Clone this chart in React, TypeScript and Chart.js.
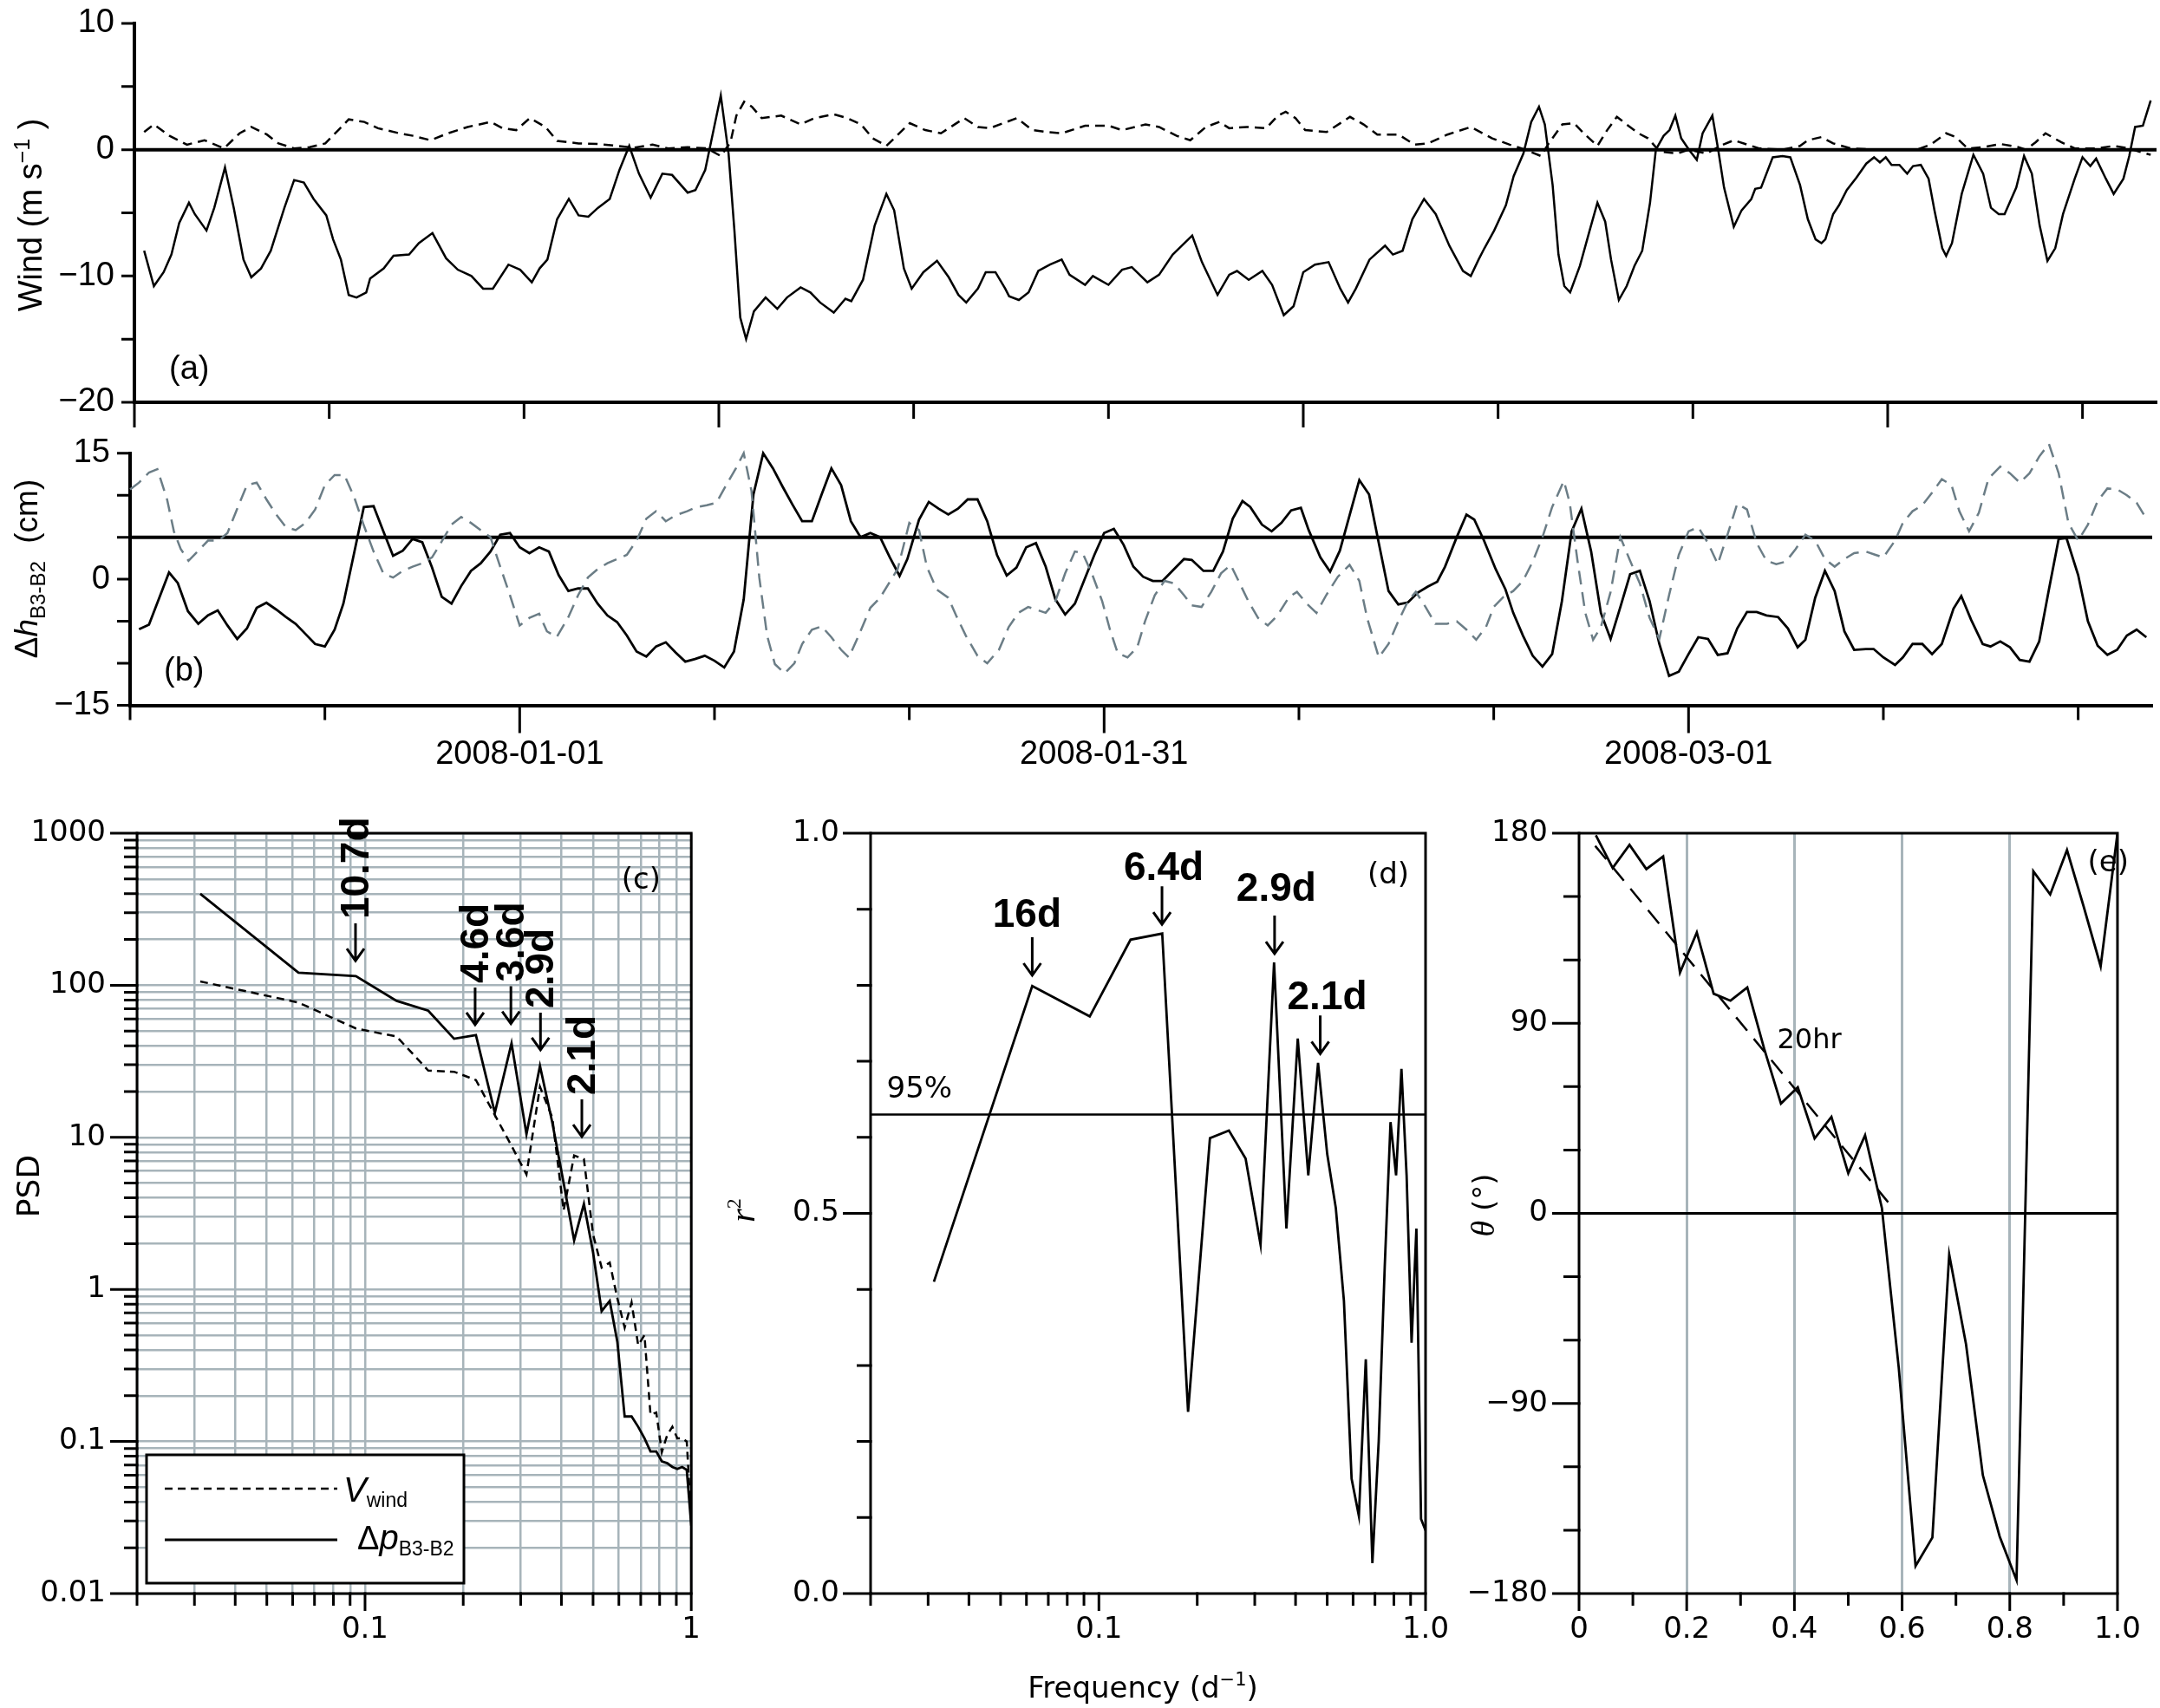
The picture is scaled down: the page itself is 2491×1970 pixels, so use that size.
import React, { useEffect, useRef } from 'react';
import { Chart, registerables } from 'chart.js';

Chart.register(...registerables);

const SANS = '"Liberation Sans", Arial, sans-serif';
const WIDE = '"DejaVu Sans", Verdana, sans-serif';
const SERIF = '"Liberation Serif", "Times New Roman", serif';
const GRID_GRAY = '#a7b4ba';
const SLATE = '#6b7d86';

// ---------------- (a)/(b) time axis: day 0 = 2007-12-12 ----------------
const TS_MAX_DAY = 103.8;
const TS_TICK_DAYS = [0, 10, 20, 30, 40, 50, 60, 70, 80, 90, 100];
const A_LONG_TICK_DAYS = [0, 30, 60, 90];
const B_DATE_DAYS = [20, 50, 80];
const B_DATE_LABELS = ['2008-01-01', '2008-01-31', '2008-03-01'];
const A_Y_TICKS = [-20, -15, -10, -5, 0, 5, 10];
const A_Y_LABELS = [-20, -10, 0, 10];
const B_Y_TICKS = [-15, -10, -5, 0, 5, 10, 15];
const B_Y_LABELS = [-15, 0, 15];
const B_REF_LEVEL = 5;

// (a) wind, solid component [day, m/s]
const WIND_SOLID = [
  [0.5,-8.0],[1.0,-10.8],[1.5,-9.7],[1.9,-8.3],[2.3,-5.8],[2.8,-4.2],[3.1,-5.1],[3.7,-6.4],[4.1,-4.6],[4.65,-1.4],
  [5.1,-4.6],[5.6,-8.7],[6.0,-10.1],[6.5,-9.4],[7.0,-8.0],[7.7,-4.6],[8.2,-2.4],[8.7,-2.6],[9.2,-3.9],[9.85,-5.2],
  [10.2,-7.1],[10.6,-8.7],[11.0,-11.5],[11.4,-11.7],[11.9,-11.3],[12.1,-10.2],[12.8,-9.4],[13.3,-8.4],[14.1,-8.3],[14.6,-7.4],
  [15.3,-6.6],[16.0,-8.6],[16.6,-9.5],[17.3,-10.0],[17.9,-11.0],[18.4,-11.0],[19.2,-9.1],[19.8,-9.5],[20.4,-10.5],[20.8,-9.4],
  [21.2,-8.7],[21.7,-5.5],[22.3,-3.9],[22.8,-5.2],[23.3,-5.3],[23.8,-4.6],[24.4,-3.9],[24.9,-1.6],[25.4,0.3],[25.9,-1.9],
  [26.5,-3.8],[27.1,-1.9],[27.6,-2.0],[28.4,-3.4],[28.8,-3.2],[29.3,-1.6],[30.1,4.3],[30.5,-0.3],[30.8,-6.4],[31.1,-13.3],
  [31.4,-15.0],[31.8,-12.8],[32.4,-11.7],[33.0,-12.6],[33.5,-11.7],[34.2,-10.9],[34.7,-11.3],[35.2,-12.1],[35.9,-12.9],[36.5,-11.8],
  [36.8,-12.0],[37.4,-10.3],[38.0,-6.0],[38.6,-3.5],[39.0,-4.8],[39.5,-9.4],[39.9,-11.0],[40.5,-9.7],[41.2,-8.8],[41.8,-10.1],
  [42.3,-11.5],[42.7,-12.1],[43.3,-11.0],[43.7,-9.7],[44.2,-9.7],[44.7,-11.0],[44.9,-11.6],[45.4,-11.9],[45.9,-11.3],[46.4,-9.6],
  [47.0,-9.1],[47.6,-8.7],[48.0,-9.9],[48.8,-10.7],[49.2,-10.0],[50.0,-10.7],[50.7,-9.5],[51.2,-9.3],[52.0,-10.5],[52.6,-9.9],
  [53.3,-8.3],[54.3,-6.8],[54.8,-8.9],[55.6,-11.5],[56.2,-9.9],[56.6,-9.6],[57.2,-10.3],[57.9,-9.6],[58.4,-10.7],[59.0,-13.1],
  [59.5,-12.4],[60.0,-9.7],[60.6,-9.1],[61.3,-8.9],[61.9,-11.0],[62.3,-12.1],[62.7,-11.0],[63.4,-8.7],[64.2,-7.6],[64.6,-8.3],
  [65.1,-8.0],[65.6,-5.5],[66.2,-3.9],[66.8,-5.1],[67.5,-7.6],[68.2,-9.6],[68.6,-10.0],[69.0,-8.7],[69.3,-7.8],[69.8,-6.4],
  [70.4,-4.4],[70.8,-2.1],[71.3,-0.3],[71.7,2.2],[72.1,3.4],[72.4,2.0],[72.8,-2.8],[73.1,-8.3],[73.4,-10.8],[73.7,-11.3],
  [74.2,-9.2],[74.7,-6.4],[75.1,-4.2],[75.5,-5.7],[75.8,-8.7],[76.2,-11.9],[76.6,-10.8],[77.0,-9.2],[77.4,-8.0],[77.8,-4.2],
  [78.1,0],[78.5,1.1],[78.8,1.55],[79.1,2.7],[79.4,0.9],[79.8,0],[80.2,-0.8],[80.5,1.3],[81.0,2.7],[81.3,0],
  [81.6,-3.0],[82.1,-6.1],[82.5,-4.8],[83.0,-3.9],[83.2,-3.1],[83.5,-3.0],[84.1,-0.6],[84.6,-0.5],[85.0,-0.6],[85.5,-2.8],
  [85.9,-5.5],[86.3,-7.1],[86.6,-7.4],[86.8,-7.1],[87.2,-5.1],[87.5,-4.4],[87.9,-3.2],[88.4,-2.2],[88.9,-1.1],[89.3,-0.6],
  [89.6,-1.0],[89.9,-0.6],[90.2,-1.2],[90.6,-1.2],[91.0,-1.9],[91.3,-1.3],[91.7,-1.2],[92.1,-2.3],[92.4,-4.8],[92.8,-7.8],
  [93.0,-8.4],[93.3,-7.4],[93.8,-3.5],[94.4,-0.4],[94.9,-1.9],[95.3,-4.6],[95.7,-5.1],[96.0,-5.1],[96.6,-3.0],[97.0,-0.5],
  [97.4,-1.9],[97.8,-6.0],[98.2,-8.8],[98.6,-7.8],[99.0,-5.1],[99.6,-2.3],[100.0,-0.6],[100.4,-1.3],[100.7,-0.7],[101.2,-2.3],
  [101.6,-3.5],[102.1,-2.3],[102.4,-0.5],[102.7,1.8],[103.1,1.9],[103.5,3.9],
];

// (a) wind, dashed component [day, m/s]
const WIND_DASHED = [
  [0.5,1.4],[1.0,2.0],[1.8,1.1],[2.7,0.4],[3.6,0.75],[4.6,0.1],[5.4,1.3],[6.0,1.8],[6.8,1.2],[7.4,0.5],
  [8.2,0.1],[9.0,0.2],[9.8,0.5],[10.5,1.6],[11.0,2.4],[11.8,2.2],[12.5,1.7],[13.6,1.3],[14.3,1.1],[15.2,0.75],
  [16.1,1.3],[17.1,1.8],[18.3,2.2],[18.9,1.7],[19.6,1.55],[20.3,2.5],[21.1,1.8],[21.7,0.7],[22.8,0.5],[23.8,0.45],
  [24.8,0.3],[25.6,0.15],[26.6,0.4],[27.4,0.1],[28.4,0.2],[29.4,0.1],[30.1,-0.5],[30.6,0.6],[30.9,2.7],[31.3,3.8],
  [31.7,3.4],[32.2,2.5],[33.2,2.7],[34.2,2.0],[34.9,2.5],[35.9,2.8],[36.6,2.5],[37.3,2.0],[37.9,0.9],[38.6,0.3],
  [39.2,1.2],[39.8,2.1],[40.6,1.55],[41.4,1.3],[42.6,2.5],[43.3,1.8],[43.9,1.7],[44.6,2.1],[45.3,2.5],[46.1,1.55],
  [46.9,1.4],[47.6,1.3],[48.8,1.9],[50.0,1.9],[50.7,1.55],[51.9,2.0],[52.6,1.8],[53.5,1.1],[54.2,0.75],[55.0,1.8],
  [55.7,2.2],[56.2,1.7],[57.1,1.8],[58.1,1.7],[58.7,2.7],[59.1,3.0],[59.6,2.5],[60.1,1.55],[61.2,1.4],[61.9,2.1],
  [62.4,2.6],[63.1,2.0],[63.8,1.2],[64.9,1.2],[65.7,0.4],[66.4,0.5],[67.4,1.2],[68.6,1.8],[69.7,0.9],[70.6,0.4],
  [71.4,0],[72.2,-0.5],[72.6,0.5],[73.3,2.0],[73.9,2.1],[74.4,1.3],[75.1,0.3],[75.6,1.55],[76.1,2.6],[76.6,2.0],
  [77.2,1.3],[77.7,0.9],[78.3,-0.15],[79.2,-0.3],[79.8,0],[80.7,-0.3],[81.4,0.3],[82.1,0.75],[82.8,0.4],[83.4,0.1],
  [84.6,0],[85.5,0.3],[85.9,0.75],[86.6,1.0],[87.2,0.5],[88.1,0.1],[89.5,0],[91.5,0],[92.2,0.4],[93.0,1.3],
  [93.5,1.0],[94.1,0.1],[94.9,0.2],[95.8,0.45],[96.7,0.2],[97.1,0],[97.6,0.6],[98.1,1.3],[98.9,0.6],[99.6,0.1],
  [100.7,0.1],[101.6,0.3],[102.4,0.1],[102.9,-0.15],[103.5,-0.4],
];

// (b) Δh B3-B2, solid black [day, cm]
const DH_SOLID = [
  [0.46,-5.95],[0.97,-5.4],[1.5,-2.2],[2.0,0.8],[2.45,-0.45],[2.97,-3.8],[3.5,-5.3],[4.0,-4.3],[4.5,-3.7],[5.0,-5.5],
  [5.5,-7.1],[6.0,-5.85],[6.5,-3.4],[7.0,-2.8],[7.5,-3.6],[8.0,-4.5],[8.5,-5.3],[9.0,-6.5],[9.5,-7.7],[10.0,-8.0],
  [10.5,-6.0],[10.95,-2.9],[11.5,3.1],[12.0,8.6],[12.5,8.7],[13.0,5.7],[13.5,2.8],[14.0,3.4],[14.5,4.8],[15.0,4.4],
  [15.5,1.4],[16.0,-2.1],[16.5,-2.9],[17.0,-0.8],[17.5,1.0],[18.0,1.9],[18.5,3.3],[19.0,5.3],[19.5,5.5],[20.0,3.8],
  [20.5,3.1],[21.0,3.8],[21.5,3.3],[22.0,0.5],[22.5,-1.4],[23.0,-1.1],[23.5,-1.1],[24.0,-2.9],[24.5,-4.3],[25.0,-5.1],
  [25.5,-6.7],[26.0,-8.6],[26.5,-9.2],[27.0,-8.0],[27.5,-7.5],[28.0,-8.7],[28.5,-9.8],[29.0,-9.5],[29.5,-9.1],[30.0,-9.7],
  [30.5,-10.5],[31.0,-8.6],[31.5,-2.4],[32.0,10.1],[32.5,15.0],[33.0,13.2],[33.5,11.0],[34.0,8.9],[34.5,6.9],[35.0,6.9],
  [35.5,10.1],[36.0,13.2],[36.5,11.2],[37.0,6.9],[37.5,5.0],[38.0,5.5],[38.5,5.0],[39.0,2.6],[39.5,0.4],[39.9,2.4],
  [40.5,7.1],[41.0,9.2],[41.5,8.4],[42.0,7.7],[42.5,8.4],[43.0,9.5],[43.5,9.5],[44.0,6.9],[44.5,2.9],[45.0,0.45],
  [45.5,1.4],[46.0,3.8],[46.5,4.3],[47.0,1.5],[47.5,-2.4],[48.0,-4.2],[48.5,-2.9],[49.0,0],[49.5,2.9],[50.0,5.5],
  [50.5,6.0],[51.0,4.1],[51.5,1.5],[52.0,0.3],[52.5,-0.2],[53.0,-0.2],[53.5,1.0],[54.1,2.4],[54.5,2.3],[55.1,1.0],
  [55.6,1.0],[56.1,3.3],[56.6,7.2],[57.1,9.3],[57.5,8.6],[58.1,6.5],[58.6,5.7],[59.1,6.7],[59.6,8.2],[60.1,8.5],
  [60.5,5.85],[61.1,2.6],[61.6,0.9],[62.1,3.4],[62.6,7.6],[63.1,11.8],[63.6,10.1],[64.1,4.3],[64.6,-1.4],[65.1,-3.0],
  [65.6,-2.75],[66.1,-1.6],[66.6,-0.9],[67.1,-0.3],[67.5,1.5],[68.1,5.0],[68.6,7.7],[69.0,7.1],[69.5,4.6],[70.1,1.2],
  [70.6,-1.2],[71.0,-4.0],[71.5,-6.7],[72.0,-9.1],[72.5,-10.4],[73.0,-8.9],[73.5,-2.6],[74.0,5.7],[74.5,8.4],[75.0,3.3],
  [75.5,-4.0],[76.0,-7.1],[76.5,-3.3],[77.0,0.6],[77.5,1.0],[78.0,-2.6],[78.5,-7.7],[79.0,-11.5],[79.5,-11.0],[80.0,-8.9],
  [80.5,-6.9],[81.0,-7.1],[81.5,-9.0],[82.0,-8.8],[82.5,-5.85],[83.0,-3.9],[83.5,-3.9],[84.0,-4.3],[84.6,-4.5],[85.1,-5.85],
  [85.6,-8.1],[86.0,-7.2],[86.5,-2.2],[87.0,1.0],[87.5,-1.4],[88.0,-6.2],[88.5,-8.4],[89.1,-8.3],[89.5,-8.3],[90.0,-9.3],
  [90.6,-10.2],[91.0,-9.3],[91.5,-7.7],[92.0,-7.7],[92.5,-8.9],[93.0,-7.7],[93.6,-3.5],[94.0,-2.0],[94.5,-4.8],[95.1,-7.7],
  [95.5,-8.0],[96.0,-7.4],[96.5,-8.1],[97.0,-9.6],[97.5,-9.8],[98.0,-7.4],[98.5,-1.2],[99.0,4.8],[99.4,4.9],[100.0,0.5],
  [100.5,-5.0],[101.0,-7.9],[101.5,-9.0],[102.0,-8.4],[102.5,-6.7],[103.0,-6.0],[103.5,-6.9],
];

// (b) dashed grey series [day, cm]
const DH_DASHED = [
  [0,10.7],[0.46,11.5],[0.97,12.7],[1.4,13.1],[1.9,9.5],[2.25,5.7],[2.6,3.6],[3.0,2.2],[3.5,3.4],[4.0,4.6],
  [4.55,4.6],[5.0,5.5],[5.5,8.4],[6.0,11.2],[6.5,11.5],[7.0,9.5],[7.5,7.7],[8.0,6.2],[8.5,5.85],[9.0,6.7],
  [9.5,8.3],[10.0,11.2],[10.5,12.4],[11.0,12.4],[11.5,9.8],[12.0,6.4],[12.5,3.3],[13.0,0.7],[13.5,0.2],[14.0,1.0],
  [14.5,1.5],[15.0,1.9],[15.5,2.6],[16.0,4.5],[16.5,6.5],[17.0,7.4],[17.5,6.7],[18.0,5.85],[18.5,5.0],[19.0,1.5],
  [19.5,-1.9],[20.0,-5.5],[20.5,-4.6],[21.0,-4.1],[21.4,-6.2],[21.9,-6.9],[22.5,-4.5],[23.0,-1.9],[23.5,0.2],[24.0,1.2],
  [24.5,1.9],[25.0,2.4],[25.5,2.9],[26.0,4.6],[26.5,7.2],[27.0,8.1],[27.5,6.9],[28.0,7.6],[28.6,8.1],[29.1,8.6],
  [29.6,8.8],[30.1,9.1],[30.6,11.2],[31.1,13.2],[31.5,15.0],[31.9,10.5],[32.3,0.2],[32.7,-6.7],[33.1,-10.1],[33.6,-11.2],
  [34.1,-10.0],[34.5,-7.7],[35.0,-6.0],[35.5,-5.6],[36.0,-6.9],[36.5,-8.4],[36.9,-9.3],[37.4,-6.7],[38.0,-3.4],[38.5,-2.2],
  [39.0,-0.3],[39.4,1.2],[40.0,6.7],[40.5,5.85],[40.9,1.5],[41.4,-1.2],[42.0,-2.2],[42.4,-4.3],[42.9,-6.7],[43.5,-9.1],
  [44.0,-10.0],[44.6,-8.4],[45.1,-5.7],[45.6,-4.0],[46.1,-3.3],[46.5,-3.6],[47.0,-4.0],[47.5,-2.6],[48.0,0.7],[48.5,3.3],
  [48.9,3.1],[49.4,0.5],[49.9,-2.6],[50.3,-6.0],[50.7,-8.8],[51.2,-9.3],[51.7,-8.1],[52.1,-5.0],[52.6,-1.9],[53.1,-0.2],
  [53.6,-0.5],[54.1,-1.9],[54.5,-3.1],[55.0,-3.3],[55.5,-1.5],[56.0,0.7],[56.5,1.7],[56.9,-0.2],[57.4,-2.6],[57.9,-4.6],
  [58.4,-5.5],[58.9,-4.3],[59.5,-2.1],[59.9,-1.5],[60.4,-2.9],[60.9,-4.0],[61.4,-1.9],[62.0,0.3],[62.6,1.7],[63.1,-0.2],
  [63.5,-4.6],[64.1,-9.3],[64.6,-7.7],[65.1,-5.0],[65.6,-2.6],[66.0,-1.5],[66.5,-3.3],[67.0,-5.3],[67.6,-5.3],[68.1,-5.0],
  [68.6,-6.0],[69.1,-7.2],[69.6,-5.7],[70.0,-3.3],[70.5,-2.1],[71.0,-1.4],[71.5,-0.2],[72.0,2.1],[72.5,5.0],[73.0,8.6],
  [73.6,11.7],[73.9,9.1],[74.3,2.2],[74.7,-4.0],[75.1,-7.2],[75.5,-5.7],[76.0,-1.5],[76.5,5.0],[77.0,2.2],[77.5,-0.5],
  [78.0,-4.6],[78.5,-7.1],[79.0,-1.9],[79.5,2.9],[80.0,5.7],[80.5,6.2],[81.0,4.3],[81.5,1.8],[82.0,5.3],[82.5,9.0],
  [83.0,8.3],[83.5,4.3],[84.0,2.2],[84.5,1.8],[85.0,2.1],[85.5,3.6],[86.0,5.3],[86.5,4.6],[87.0,2.4],[87.5,1.5],
  [88.0,2.4],[88.5,3.1],[89.1,3.3],[89.6,2.9],[90.0,2.6],[90.6,4.6],[91.0,6.7],[91.5,8.1],[92.0,8.8],[92.5,10.3],
  [93.0,11.9],[93.5,11.2],[93.9,8.1],[94.4,5.7],[94.9,7.9],[95.4,12.0],[96.0,13.4],[96.5,12.6],[97.0,11.5],[97.5,12.6],
  [98.0,14.6],[98.5,16.1],[99.0,12.6],[99.5,6.7],[100.0,4.6],[100.5,6.5],[101.0,9.3],[101.5,10.8],[102.0,10.7],[102.5,10.0],
  [103.0,9.1],[103.5,7.2],
];

// ---------------- spectra (c), (d), (e) ----------------
const FREQ = [0.03125,0.0625,0.09375,0.125,0.15625,0.1875,0.21875,0.25,0.28125,0.3125,0.34375,0.375,0.40625,0.4375,0.46875,0.5,
  0.53125,0.5625,0.59375,0.625,0.65625,0.6875,0.71875,0.75,0.78125,0.8125,0.84375,0.875,0.90625,0.9375,0.96875,1.0];
const PSD_WIND = [106,77,52,46,27.5,27,23.8,14,8.8,5.7,21.5,13.5,3.3,7.6,7.2,2.3,
  1.39,1.5,0.87,0.56,0.82,0.43,0.5,0.15,0.155,0.085,0.11,0.125,0.105,0.105,0.1,0.03];
const PSD_DP = [400,121,115,79,68,44.5,47,14.5,41.5,10.5,29.5,12.5,5.0,2.1,3.65,1.75,
  0.72,0.84,0.45,0.146,0.146,0.125,0.105,0.086,0.086,0.074,0.072,0.068,0.066,0.068,0.065,0.028];
const R2 = [0.41,0.799,0.759,0.86,0.868,0.239,0.599,0.609,0.572,0.459,0.83,0.48,0.73,0.55,0.698,0.578,
  0.507,0.385,0.151,0.102,0.308,0.04,0.2,0.43,0.62,0.55,0.69,0.55,0.33,0.48,0.098,0.083];
const R2_95 = 0.63;
const THETA = [179,163.5,174.5,163,169,114,133,104,100.7,107,78,52,59.7,35.5,45.7,19,
  37,2.5,-73,-167,-153.5,-19.5,-62,-124,-153,-173.6,162,151,172,145,117,180];
const FIT_FREQ = [0.03, 0.575];
const FIT_THETA = [174, 5];

const C_X_LABEL_VALS = [0.1, 1];
const C_X_LABELS = ['0.1', '1'];
const C_Y_LABEL_VALS = [0.01, 0.1, 1, 10, 100, 1000];
const C_Y_LABELS = ['0.01', '0.1', '1', '10', '100', '1000'];
const D_X_LABEL_VALS = [0.1, 1];
const D_X_LABELS = ['0.1', '1.0'];
const D_Y_TICKS = [0, 0.1, 0.2, 0.3, 0.4, 0.5, 0.6, 0.7, 0.8, 0.9, 1.0];
const D_Y_LABEL_VALS = [0, 0.5, 1];
const D_Y_LABELS = ['0.0', '0.5', '1.0'];
const E_X_TICKS = [0, 0.1, 0.2, 0.3, 0.4, 0.5, 0.6, 0.7, 0.8, 0.9, 1.0];
const E_X_LABEL_VALS = [0, 0.2, 0.4, 0.6, 0.8, 1.0];
const E_X_LABELS = ['0', '0.2', '0.4', '0.6', '0.8', '1.0'];
const E_GRID_X = [0.2, 0.4, 0.6, 0.8];
const E_Y_TICKS = [-180, -150, -120, -90, -60, -30, 0, 30, 60, 90, 120, 150, 180];
const E_Y_LABEL_VALS = [-180, -90, 0, 90, 180];

const C_ANN = [
  { f: 0.0935, tip: 145, text: '10.7d' },
  { f: 0.2175, tip: 55, text: '4.6d' },
  { f: 0.28, tip: 56, text: '3.6d' },
  { f: 0.345, tip: 37.6, text: '2.9d' },
  { f: 0.462, tip: 10.1, text: '2.1d' },
];
const D_ANN = [
  { f: 0.0625, tip: 0.813, text: '16d', gap: 12, dx: -6 },
  { f: 0.156, tip: 0.88, text: '6.4d', gap: 7, dx: 2 },
  { f: 0.345, tip: 0.8415, text: '2.9d', gap: 17, dx: 2 },
  { f: 0.476, tip: 0.71, text: '2.1d', gap: 7, dx: 8 },
];

// ---------------- layout boxes (page px) ----------------
const BOX_A = { left: 0, top: -30, w: 2491, h: 544 };
const BOX_B = { left: 0, top: 460, w: 2491, h: 450 };
const BOX_C = { left: 0, top: 900, w: 830, h: 1070 };
const BOX_D = { left: 830, top: 900, w: 870, h: 1070 };
const BOX_E = { left: 1680, top: 900, w: 811, h: 1070 };

// ---------------- helpers ----------------
const pts = (arr: number[][]) => arr.map(([x, y]) => ({ x, y }));
const zip = (xs: number[], ys: number[]) => xs.map((x, i) => ({ x, y: ys[i] }));
const near = (a: number, b: number) => Math.abs(a - b) < 1e-9 * Math.max(1, Math.abs(b));
const inList = (list: number[], v: number) => list.some((u) => near(u, v));
const labelFor = (vals: number[], labels: string[]) => (v: number) => {
  const i = vals.findIndex((u) => near(u, v));
  return i >= 0 ? labels[i] : '';
};
const minus = (v: number) => (v < 0 ? '\u2212' + Math.abs(v) : String(v));
const isDecade = (v: number) => Math.abs(Math.log10(v) - Math.round(Math.log10(v))) < 1e-9;

function logTicks(lo: number, hi: number) {
  const out: number[] = [];
  for (let e = Math.floor(Math.log10(lo) + 1e-9); e <= Math.ceil(Math.log10(hi) - 1e-9); e++) {
    for (let m = 1; m <= 9; m++) {
      const v = Number((m * Math.pow(10, e)).toPrecision(6));
      if (v >= lo * (1 - 1e-9) && v <= hi * (1 + 1e-9)) out.push(v);
    }
  }
  return out;
}
const C_X_TICKS = logTicks(0.02, 1);
const C_Y_TICKS = logTicks(0.01, 1000);
const D_X_TICKS = logTicks(0.02, 1);

type Seg = { t: string; font: string; dy?: number };
function drawRich(ctx: any, segs: Seg[], x: number, y: number, align = 'left', rot = 0) {
  ctx.save();
  ctx.translate(x, y);
  if (rot) ctx.rotate(rot);
  let w = 0;
  for (const s of segs) { ctx.font = s.font; w += ctx.measureText(s.t).width; }
  let cx = align === 'center' ? -w / 2 : align === 'right' ? -w : 0;
  ctx.fillStyle = '#000';
  ctx.textAlign = 'left';
  ctx.textBaseline = 'alphabetic';
  for (const s of segs) {
    ctx.font = s.font;
    ctx.fillText(s.t, cx, s.dy || 0);
    cx += ctx.measureText(s.t).width;
  }
  ctx.restore();
}
function vTitle(ctx: any, segs: Seg[], cx: number, cy: number, capH: number) {
  drawRich(ctx, segs, cx + capH / 2, cy, 'center', -Math.PI / 2);
}
function yTickMarks(chart: any, lenFn: (v: number) => number, lw = 3) {
  const { ctx, chartArea } = chart;
  const s = chart.scales.y;
  ctx.save();
  ctx.strokeStyle = '#000';
  ctx.lineWidth = lw;
  ctx.beginPath();
  for (const t of s.ticks) {
    const p = s.getPixelForValue(t.value);
    ctx.moveTo(chartArea.left - lenFn(t.value), p);
    ctx.lineTo(chartArea.left + lw / 2, p);
  }
  ctx.stroke();
  ctx.restore();
}
function xTickMarks(chart: any, lenFn: (v: number) => number, lw = 3) {
  const { ctx, chartArea } = chart;
  const s = chart.scales.x;
  ctx.save();
  ctx.strokeStyle = '#000';
  ctx.lineWidth = lw;
  ctx.beginPath();
  for (const t of s.ticks) {
    const p = s.getPixelForValue(t.value);
    ctx.moveTo(p, chartArea.bottom - lw / 2);
    ctx.lineTo(p, chartArea.bottom + lenFn(t.value));
  }
  ctx.stroke();
  ctx.restore();
}
function hLine(chart: any, v: number, lw: number, color = '#000') {
  const { ctx, chartArea } = chart;
  const p = chart.scales.y.getPixelForValue(v);
  ctx.save();
  ctx.strokeStyle = color;
  ctx.lineWidth = lw;
  ctx.beginPath();
  ctx.moveTo(chartArea.left, p);
  ctx.lineTo(chartArea.right, p);
  ctx.stroke();
  ctx.restore();
}
function frame(chart: any, lw = 3) {
  const { ctx, chartArea: a } = chart;
  ctx.save();
  ctx.strokeStyle = '#000';
  ctx.lineWidth = lw;
  ctx.strokeRect(a.left, a.top, a.right - a.left, a.bottom - a.top);
  ctx.restore();
}
function arrowDown(ctx: any, x: number, yTop: number, yTip: number, lw = 3) {
  ctx.save();
  ctx.strokeStyle = '#000';
  ctx.lineWidth = lw;
  ctx.beginPath();
  ctx.moveTo(x, yTop);
  ctx.lineTo(x, yTip);
  ctx.moveTo(x - 10, yTip - 14);
  ctx.lineTo(x, yTip);
  ctx.lineTo(x + 10, yTip - 14);
  ctx.stroke();
  ctx.restore();
}

const common = (pad: any) => ({
  animation: false,
  responsive: false,
  maintainAspectRatio: false,
  devicePixelRatio: 1,
  events: [],
  layout: { padding: pad },
  plugins: { legend: { display: false }, tooltip: { enabled: false }, title: { display: false } },
  elements: { point: { radius: 0 }, line: { tension: 0 } },
});

function axis(o: any) {
  return {
    type: o.type || 'linear',
    min: o.min,
    max: o.max,
    bounds: 'data',
    afterBuildTicks: (s: any) => { s.ticks = o.ticks.map((v: number) => ({ value: v })); },
    afterFit: (s: any) => { if (s.isHorizontal()) s.height = o.size; else s.width = o.size; },
    ticks: {
      display: o.showLabels !== false,
      autoSkip: false,
      maxRotation: 0,
      minRotation: 0,
      padding: o.pad || 0,
      color: '#000',
      font: o.font,
      callback: o.labels || (() => ''),
    },
    grid: o.grid || { display: false, drawTicks: false },
    border: { display: !!o.border, color: '#000', width: o.border || 0 },
  };
}

// ---------------- panel (a) ----------------
function makeA(canvas: HTMLCanvasElement) {
  const oy = BOX_A.top;
  return new Chart(canvas, {
    type: 'line',
    data: {
      datasets: [
        { data: pts(WIND_DASHED), borderColor: '#000', borderWidth: 2.5, borderDash: [11, 7], pointRadius: 0 },
        { data: pts(WIND_SOLID), borderColor: '#000', borderWidth: 2.5, pointRadius: 0 },
      ],
    },
    options: {
      ...common({ left: 0, top: 27 - oy, right: 4, bottom: 0 }),
      scales: {
        x: axis({ min: 0, max: TS_MAX_DAY, ticks: TS_TICK_DAYS, size: BOX_A.h - (464 - oy), showLabels: false, border: 4, font: { family: SANS, size: 38 } }),
        y: axis({ min: -20, max: 10, ticks: A_Y_TICKS, size: 155, border: 4, pad: 23,
          labels: (v: number) => (A_Y_LABELS.includes(v) ? minus(v) : ''), font: { family: SANS, size: 38 } }),
      },
    } as any,
    plugins: [{
      id: 'decorA',
      beforeDatasetsDraw: (c: any) => hLine(c, 0, 4),
      afterDraw: (c: any) => {
        const ctx = c.ctx;
        yTickMarks(c, () => 15);
        xTickMarks(c, (v) => (A_LONG_TICK_DAYS.includes(v) ? 29 : 19));
        drawRich(ctx, [{ t: '(a)', font: `38px ${SANS}` }], 195, 437 - oy);
        vTitle(ctx, [
          { t: 'Wind (m s', font: `38px ${SANS}` },
          { t: '\u22121', font: `25px ${SANS}`, dy: -14 },
          { t: ' )', font: `38px ${SANS}` },
        ], 34, 248 - oy, 27);
      },
    }],
  } as any);
}

// ---------------- panel (b) ----------------
function makeB(canvas: HTMLCanvasElement) {
  const oy = BOX_B.top;
  return new Chart(canvas, {
    type: 'line',
    data: {
      datasets: [
        { data: pts(DH_DASHED), borderColor: SLATE, borderWidth: 2.5, borderDash: [16, 9], pointRadius: 0, clip: false },
        { data: pts(DH_SOLID), borderColor: '#000', borderWidth: 2.8, pointRadius: 0, clip: false },
      ],
    },
    options: {
      ...common({ left: 0, top: 522.7 - oy, right: 9, bottom: 0 }),
      scales: {
        x: axis({ min: 0, max: TS_MAX_DAY, ticks: TS_TICK_DAYS, size: BOX_B.h - (813.5 - oy), border: 4, pad: 34,
          labels: labelFor(B_DATE_DAYS, B_DATE_LABELS), font: { family: SANS, size: 38 } }),
        y: axis({ min: -15, max: 15, ticks: B_Y_TICKS, size: 150, border: 4, pad: 23,
          labels: (v: number) => (B_Y_LABELS.includes(v) ? minus(v) : ''), font: { family: SANS, size: 38 } }),
      },
    } as any,
    plugins: [{
      id: 'decorB',
      beforeDatasetsDraw: (c: any) => hLine(c, B_REF_LEVEL, 4),
      afterDraw: (c: any) => {
        const ctx = c.ctx;
        yTickMarks(c, () => 15);
        xTickMarks(c, (v) => (B_DATE_DAYS.includes(v) ? 32 : 17));
        drawRich(ctx, [{ t: '(b)', font: `38px ${SANS}` }], 189, 785 - oy);
        vTitle(ctx, [
          { t: '\u0394', font: `37px ${SANS}` },
          { t: 'h', font: `italic 37px ${SANS}` },
          { t: 'B3-B2', font: `24px ${SANS}`, dy: 9 },
          { t: '  (cm)', font: `37px ${SANS}` },
        ], 29, 656 - oy, 27);
      },
    }],
  } as any);
}

// ---------------- panel (c) ----------------
function makeC(canvas: HTMLCanvasElement) {
  const oy = BOX_C.top;
  const ox = BOX_C.left;
  const grid = { display: true, drawOnChartArea: true, drawTicks: false, color: GRID_GRAY, lineWidth: 2.5 };
  return new Chart(canvas, {
    type: 'line',
    data: {
      datasets: [
        { data: zip(FREQ, PSD_WIND), borderColor: '#000', borderWidth: 2.5, borderDash: [9, 6], pointRadius: 0 },
        { data: zip(FREQ, PSD_DP), borderColor: '#000', borderWidth: 2.8, pointRadius: 0 },
      ],
    },
    options: {
      ...common({ left: 0, top: 961 - oy, right: BOX_C.w - (799 - ox), bottom: 0 }),
      scales: {
        x: axis({ type: 'logarithmic', min: 0.02, max: 1, ticks: C_X_TICKS, size: BOX_C.h - (1838 - oy), pad: 22,
          labels: labelFor(C_X_LABEL_VALS, C_X_LABELS), font: { family: WIDE, size: 34 }, grid }),
        y: axis({ type: 'logarithmic', min: 0.01, max: 1000, ticks: C_Y_TICKS, size: 158 - ox, pad: 36,
          labels: labelFor(C_Y_LABEL_VALS, C_Y_LABELS), font: { family: WIDE, size: 34 }, grid }),
      },
    } as any,
    plugins: [{
      id: 'decorC',
      afterDraw: (c: any) => {
        const ctx = c.ctx;
        frame(c, 3);
        yTickMarks(c, (v) => (isDecade(v) ? 31 : 15));
        xTickMarks(c, (v) => (inList(C_X_LABEL_VALS, v) ? 20 : 14));
        // legend
        ctx.save();
        ctx.fillStyle = '#fff';
        ctx.fillRect(169 - ox, 1678 - oy, 366, 148);
        ctx.strokeStyle = '#000';
        ctx.lineWidth = 3;
        ctx.strokeRect(169 - ox, 1678 - oy, 366, 148);
        ctx.lineWidth = 2.5;
        ctx.setLineDash([9, 6]);
        ctx.beginPath(); ctx.moveTo(190 - ox, 1717 - oy); ctx.lineTo(389 - ox, 1717 - oy); ctx.stroke();
        ctx.setLineDash([]);
        ctx.lineWidth = 2.8;
        ctx.beginPath(); ctx.moveTo(190 - ox, 1776 - oy); ctx.lineTo(389 - ox, 1776 - oy); ctx.stroke();
        ctx.restore();
        drawRich(ctx, [
          { t: 'V', font: `italic 40px ${SANS}` },
          { t: 'wind', font: `23px ${SANS}`, dy: 6 },
        ], 396 - ox, 1732 - oy);
        drawRich(ctx, [
          { t: '\u0394', font: `38px ${SANS}` },
          { t: 'p', font: `italic 40px ${SANS}` },
          { t: 'B3-B2', font: `23px ${SANS}`, dy: 7 },
        ], 412 - ox, 1787 - oy);
        // annotations
        const sx = c.scales.x, sy = c.scales.y;
        for (const a of C_ANN) {
          const x = sx.getPixelForValue(a.f);
          const yTip = sy.getPixelForValue(a.tip);
          const yTop = yTip - 43;
          arrowDown(ctx, x, yTop, yTip);
          ctx.save();
          ctx.translate(x, yTop - 5);
          ctx.rotate(-Math.PI / 2);
          ctx.font = `bold 46px ${SANS}`;
          ctx.fillStyle = '#000';
          ctx.textAlign = 'left';
          ctx.textBaseline = 'middle';
          ctx.fillText(a.text, 0, 2);
          ctx.restore();
        }
        drawRich(ctx, [{ t: '(c)', font: `34px ${WIDE}` }], 762 - ox, 1025 - oy, 'right');
        vTitle(ctx, [{ t: 'PSD', font: `36px ${WIDE}` }], 32 - ox, 1368 - oy, 26);
      },
    }],
  } as any);
}

// ---------------- panel (d) ----------------
function makeD(canvas: HTMLCanvasElement) {
  const oy = BOX_D.top;
  const ox = BOX_D.left;
  return new Chart(canvas, {
    type: 'line',
    data: {
      datasets: [
        { data: zip(FREQ, R2), borderColor: '#000', borderWidth: 2.8, pointRadius: 0 },
        { data: [{ x: 0.02, y: R2_95 }, { x: 1, y: R2_95 }], borderColor: '#000', borderWidth: 2.5, pointRadius: 0 },
      ],
    },
    options: {
      ...common({ left: 0, top: 961 - oy, right: BOX_D.w - (1644 - ox), bottom: 0 }),
      scales: {
        x: axis({ type: 'logarithmic', min: 0.02, max: 1, ticks: D_X_TICKS, size: BOX_D.h - (1838 - oy), pad: 22,
          labels: labelFor(D_X_LABEL_VALS, D_X_LABELS), font: { family: WIDE, size: 34 } }),
        y: axis({ min: 0, max: 1, ticks: D_Y_TICKS, size: 1004 - ox, pad: 36,
          labels: labelFor(D_Y_LABEL_VALS, D_Y_LABELS), font: { family: WIDE, size: 34 } }),
      },
    } as any,
    plugins: [{
      id: 'decorD',
      afterDraw: (c: any) => {
        const ctx = c.ctx;
        frame(c, 3);
        yTickMarks(c, (v) => (inList(D_Y_LABEL_VALS, v) ? 32 : 16));
        xTickMarks(c, (v) => (inList(D_X_LABEL_VALS, v) ? 20 : 14));
        const sx = c.scales.x, sy = c.scales.y;
        for (const a of D_ANN) {
          const x = sx.getPixelForValue(a.f);
          const yTip = sy.getPixelForValue(a.tip);
          const yTop = yTip - 44;
          arrowDown(ctx, x, yTop, yTip);
          drawRich(ctx, [{ t: a.text, font: `bold 46px ${SANS}` }], x + a.dx, yTop - a.gap, 'center');
        }
        drawRich(ctx, [{ t: '95%', font: `34px ${WIDE}` }], sx.getPixelForValue(0.0224), sy.getPixelForValue(0.652));
        drawRich(ctx, [{ t: '(d)', font: `34px ${WIDE}` }], 1625 - ox, 1019 - oy, 'right');
        vTitle(ctx, [
          { t: 'r', font: `italic 40px ${SERIF}` },
          { t: '2', font: `24px ${SERIF}`, dy: -16 },
        ], 860 - ox, 1396 - oy, 20);
        drawRich(ctx, [
          { t: 'Frequency (d', font: `34px ${WIDE}` },
          { t: '\u22121', font: `21px ${WIDE}`, dy: -14 },
          { t: ')', font: `34px ${WIDE}` },
        ], 1318 - ox, 1958 - oy, 'center');
      },
    }],
  } as any);
}

// ---------------- panel (e) ----------------
function makeE(canvas: HTMLCanvasElement) {
  const oy = BOX_E.top;
  const ox = BOX_E.left;
  return new Chart(canvas, {
    type: 'line',
    data: {
      datasets: [
        { data: zip(FIT_FREQ, FIT_THETA), borderColor: '#000', borderWidth: 2.5, borderDash: [20, 12], pointRadius: 0 },
        { data: zip(FREQ, THETA), borderColor: '#000', borderWidth: 2.8, pointRadius: 0 },
      ],
    },
    options: {
      ...common({ left: 0, top: 961 - oy, right: BOX_E.w - (2462 - ox), bottom: 0 }),
      scales: {
        x: axis({ min: 0, max: 1, ticks: E_X_TICKS, size: BOX_E.h - (1838 - oy), pad: 22,
          labels: labelFor(E_X_LABEL_VALS, E_X_LABELS), font: { family: WIDE, size: 34 },
          grid: {
            display: true, drawOnChartArea: true, drawTicks: false, lineWidth: 3,
            color: (ctx: any) => (ctx.tick && inList(E_GRID_X, ctx.tick.value) ? GRID_GRAY : 'rgba(0,0,0,0)'),
          } }),
        y: axis({ min: -180, max: 180, ticks: E_Y_TICKS, size: 1821 - ox, pad: 36,
          labels: (v: number) => (inList(E_Y_LABEL_VALS, v) ? minus(v) : ''), font: { family: WIDE, size: 34 } }),
      },
    } as any,
    plugins: [{
      id: 'decorE',
      beforeDatasetsDraw: (c: any) => hLine(c, 0, 3),
      afterDraw: (c: any) => {
        const ctx = c.ctx;
        frame(c, 3);
        yTickMarks(c, (v) => (inList(E_Y_LABEL_VALS, v) ? 31 : 18));
        xTickMarks(c, (v) => (inList(E_X_LABEL_VALS, v) ? 20 : 14));
        const sx = c.scales.x, sy = c.scales.y;
        drawRich(ctx, [{ t: '20hr', font: `32px ${WIDE}` }], sx.getPixelForValue(0.368), sy.getPixelForValue(78.2));
        drawRich(ctx, [{ t: '(e)', font: `34px ${WIDE}` }], 2455 - ox, 1005 - oy, 'right');
        vTitle(ctx, [
          { t: '\u03b8', font: `italic 38px ${SERIF}` },
          { t: ' (\u00b0)', font: `34px ${WIDE}` },
        ], 1710 - ox, 1390 - oy, 26);
      },
    }],
  } as any);
}

export default function App() {
  const ra = useRef<HTMLCanvasElement>(null);
  const rb = useRef<HTMLCanvasElement>(null);
  const rc = useRef<HTMLCanvasElement>(null);
  const rd = useRef<HTMLCanvasElement>(null);
  const re = useRef<HTMLCanvasElement>(null);

  useEffect(() => {
    const charts = [
      makeA(ra.current as HTMLCanvasElement),
      makeB(rb.current as HTMLCanvasElement),
      makeC(rc.current as HTMLCanvasElement),
      makeD(rd.current as HTMLCanvasElement),
      makeE(re.current as HTMLCanvasElement),
    ];
    return () => charts.forEach((c) => c.destroy());
  }, []);

  const cv = (r: any, b: any) => (
    <canvas
      ref={r}
      width={b.w}
      height={b.h}
      style={{ position: 'absolute', left: b.left, top: b.top, width: b.w, height: b.h }}
    />
  );

  return (
    <div style={{ position: 'absolute', left: 0, top: 0, width: 2491, height: 1970, background: '#fff', overflow: 'hidden' }}>
      {cv(ra, BOX_A)}
      {cv(rb, BOX_B)}
      {cv(rc, BOX_C)}
      {cv(rd, BOX_D)}
      {cv(re, BOX_E)}
    </div>
  );
}
